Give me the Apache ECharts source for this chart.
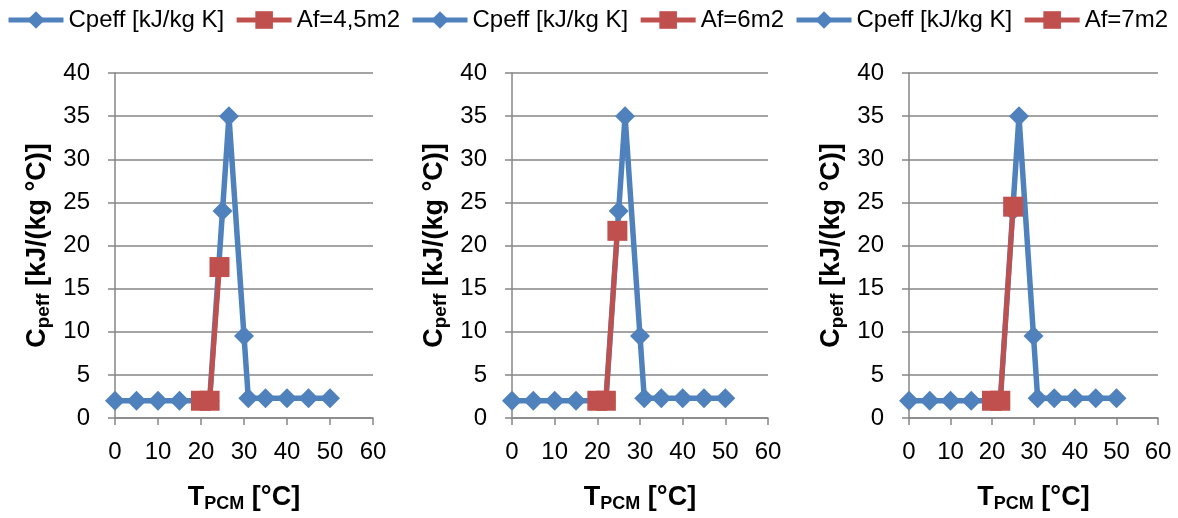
<!DOCTYPE html>
<html>
<head>
<meta charset="utf-8">
<script src="https://cdn.jsdelivr.net/npm/echarts@6/dist/echarts.min.js"></script>
<style>
html,body{margin:0;padding:0;background:#fff;}
#chart{width:1178px;height:518px;}
</style>
</head>
<body>
<div id="chart"></div>
<script>
// ---- data ----
const blueName = 'Cpeff [kJ/kg K]';
const redNames = ['Af=4,5m2', 'Af=6m2', 'Af=7m2'];
const blueT = [0, 5, 10, 15, 20, 22, 25, 26.5, 30, 31, 35, 40, 45, 50];
const blueC = [2, 2, 2, 2, 2, 2, 24, 35, 9.5, 2.3, 2.3, 2.3, 2.3, 2.3];
const redT1 = [20, 22, 24.3];
const redC1 = [2, 2, 17.5];
const redT2 = [20, 22, 24.7];
const redC2 = [2, 2, 21.7];
const redT3 = [20, 22, 25.1];
const redC3 = [2, 2, 24.5];
const xTicks = [0, 10, 20, 30, 40, 50, 60];
const yTicks = [0, 5, 10, 15, 20, 25, 30, 35, 40];

// ---- styling / layout ----
const FONT = '"Liberation Sans", Arial, sans-serif';
const BLUE = '#4F81BD';
const RED = '#C0504D';
const GRID_COLOR = '#868686';
const grids = [
  {left: 115, right: 1178 - 373, top: 73, bottom: 518 - 419},
  {left: 512, right: 1178 - 768, top: 73, bottom: 518 - 419},
  {left: 909, right: 1178 - 1158, top: 73, bottom: 518 - 419}
];
const redT = [redT1, redT2, redT3];
const redC = [redC1, redC2, redC3];
const zw = ['', '\u200b', '\u200b\u200b'];

function pairs(xs, ys) { return xs.map((x, i) => [x, ys[i]]); }

const xAxes = [], yAxes = [], series = [], legendData = [];
grids.forEach((g, i) => {
  xAxes.push({
    type: 'value', gridIndex: i, min: xTicks[0], max: xTicks[xTicks.length - 1], interval: 10,
    axisLine: {show: true, onZero: false, lineStyle: {color: GRID_COLOR, width: 1.5}},
    axisTick: {show: true, length: 7, lineStyle: {color: GRID_COLOR, width: 1.5}},
    splitLine: {show: false},
    axisLabel: {color: '#000', fontFamily: FONT, fontSize: 24, margin: 22},
    name: '{a|T}{b|PCM}{a| [°C]}',
    nameLocation: 'middle',
    nameGap: 65,
    nameTextStyle: {
      rich: {
        a: {fontFamily: FONT, fontSize: 27, fontWeight: 'bold', color: '#000', lineHeight: 30},
        b: {fontFamily: FONT, fontSize: 18, fontWeight: 'bold', color: '#000', lineHeight: 12, verticalAlign: 'bottom'}
      }
    }
  });
  yAxes.push({
    type: 'value', gridIndex: i, min: yTicks[0], max: yTicks[yTicks.length - 1], interval: 5,
    axisLine: {show: true, lineStyle: {color: GRID_COLOR, width: 1.5}},
    axisTick: {show: true, length: 7, lineStyle: {color: GRID_COLOR, width: 1.5}},
    splitLine: {show: true, lineStyle: {color: GRID_COLOR, width: 1.5}},
    axisLabel: {color: '#000', fontFamily: FONT, fontSize: 24, margin: 25},
    name: '{a|C}{b|peff}{a| [kJ/(kg °C)]}',
    nameLocation: 'middle',
    nameGap: 62,
    nameTextStyle: {
      rich: {
        a: {fontFamily: FONT, fontSize: 27, fontWeight: 'bold', color: '#000', lineHeight: 30},
        b: {fontFamily: FONT, fontSize: 19, fontWeight: 'bold', color: '#000', lineHeight: 12, verticalAlign: 'bottom'}
      }
    }
  });
  const bn = blueName + zw[i];
  series.push({
    name: bn, type: 'line', xAxisIndex: i, yAxisIndex: i,
    data: pairs(blueT, blueC),
    symbol: 'diamond', symbolSize: 20,
    lineStyle: {color: BLUE, width: 5.5},
    itemStyle: {color: BLUE},
    z: 2
  });
  series.push({
    name: redNames[i], type: 'line', xAxisIndex: i, yAxisIndex: i,
    data: pairs(redT[i], redC[i]),
    symbol: 'rect', symbolSize: 20,
    lineStyle: {color: RED, width: 5},
    itemStyle: {color: RED},
    z: 3
  });
  legendData.push(bn, redNames[i]);
});

const chart = echarts.init(document.getElementById('chart'), null, {renderer: 'canvas'});
chart.setOption({
  animation: false,
  backgroundColor: '#fff',
  legend: {
    data: legendData,
    left: 6, top: 8, width: 1176, padding: 0,
    itemWidth: 55, itemHeight: 22, itemGap: 10,
    lineStyle: {width: 5},
    formatter: n => n.replace(/\u200b/g, ''),
    textStyle: {fontFamily: FONT, fontSize: 24, color: '#000'}
  },
  grid: grids,
  xAxis: xAxes,
  yAxis: yAxes,
  series: series
});
</script>
</body>
</html>
